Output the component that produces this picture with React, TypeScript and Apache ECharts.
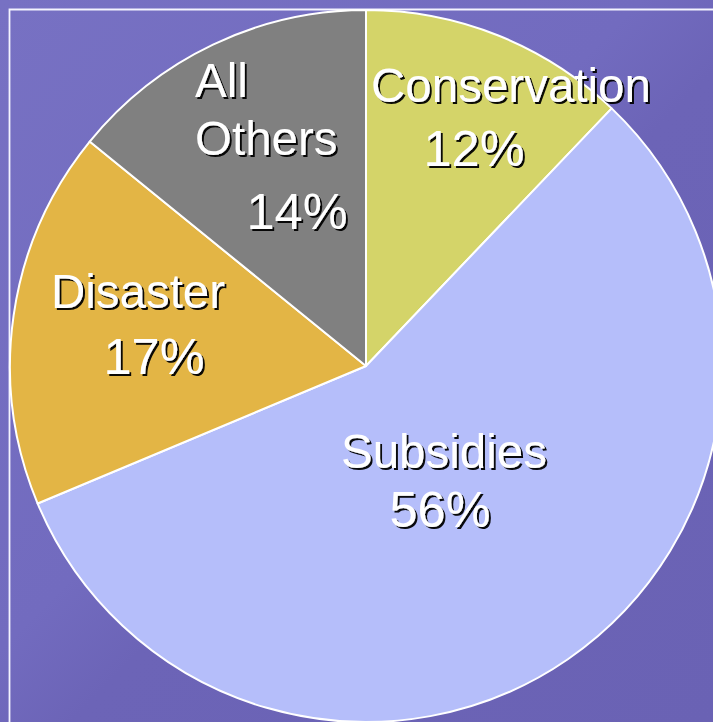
import React, { useEffect, useRef } from "react";
import * as echarts from "echarts";

const categories = ["Conservation", "Subsidies", "Disaster", "All Others"];
const values = [12, 56, 17, 14];
const colors = ["#d4d469", "#b5befa", "#e3b545", "#808080"];

// label anchor positions (pixels) for the name line(s) and the percentage line
const nameLayout = [
  { x: 511, y: 85, align: "center" },
  { x: 444, y: 451, align: "center" },
  { x: 138, y: 291, align: "center" },
  { x: 195, y: 109, align: "left" },
];
const pctLayout = [
  { x: 474, y: 148 },
  { x: 440, y: 509 },
  { x: 154, y: 356 },
  { x: 297, y: 211 },
];

const FONT = '"Liberation Sans", Arial, Helvetica, sans-serif';

export default function App() {
  const ref = useRef<HTMLDivElement>(null);
  useEffect(() => {
    document.body.style.margin = "0";
    if (!ref.current) return;
    const chart = echarts.init(ref.current, undefined, { renderer: "svg" });
    const textShadow = {
      fill: "#ffffff",
      fontFamily: FONT,
      textShadowColor: "rgba(0,0,0,0.95)",
      textShadowOffsetX: 2,
      textShadowOffsetY: 2,
      textShadowBlur: 0.5,
    };
    const labels: any[] = [];
    categories.forEach((c, i) => {
      labels.push({
        type: "text",
        x: nameLayout[i].x,
        y: nameLayout[i].y,
        z: 100,
        style: {
          ...textShadow,
          text: c.replace(" ", "\n"),
          fontSize: 47.5,
          lineHeight: 58,
          align: nameLayout[i].align,
          verticalAlign: "middle",
        },
      });
      labels.push({
        type: "text",
        x: pctLayout[i].x,
        y: pctLayout[i].y,
        z: 100,
        style: {
          ...textShadow,
          text: `${values[i]}%`,
          fontSize: 50.5,
          align: "center",
          verticalAlign: "middle",
        },
      });
    });
    chart.setOption({
      animation: false,
      backgroundColor: {
        type: "linear",
        x: 0,
        y: 0,
        x2: 1,
        y2: 1,
        colorStops: [
          { offset: 0, color: "#7771c3" },
          { offset: 0.45, color: "#726bbf" },
          { offset: 0.55, color: "#6c64b7" },
          { offset: 1, color: "#6a62b4" },
        ],
      },
      graphic: [
        {
          type: "rect",
          z: -10,
          shape: { x: 9.5, y: 9.5, width: 900, height: 900 },
          style: { fill: "none", stroke: "#f4f4ff", lineWidth: 1.8 },
        },
        ...labels,
      ],
      series: [
        {
          type: "pie",
          center: [366, 366],
          radius: [0, 356],
          startAngle: 90,
          clockwise: true,
          label: { show: false },
          labelLine: { show: false },
          emphasis: { disabled: true },
          itemStyle: { borderColor: "#ffffff", borderWidth: 2 },
          data: categories.map((c, i) => ({
            name: c,
            value: values[i],
            itemStyle: { color: colors[i] },
          })),
        },
      ],
    });
    return () => chart.dispose();
  }, []);
  return <div ref={ref} style={{ width: 713, height: 722 }} />;
}
